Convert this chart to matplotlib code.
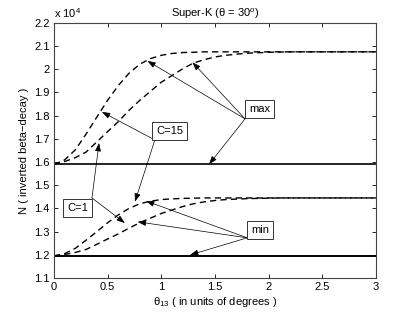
import matplotlib
matplotlib.use("Agg")
import matplotlib.pyplot as plt
from matplotlib.ticker import FuncFormatter

plt.rcParams["font.family"] = ["Liberation Sans", "DejaVu Sans"]
plt.rcParams["mathtext.fontset"] = "custom"
plt.rcParams["mathtext.rm"] = "Liberation Sans"
plt.rcParams["mathtext.it"] = "Liberation Sans:italic"

# N in units of 1e4, theta_13 in degrees
x_steep = [0, 0.1, 0.2, 0.3, 0.4, 0.5, 0.6, 0.7, 0.8, 0.9, 1.0, 1.1, 1.2, 1.3, 1.4, 1.5, 2.0, 2.5, 3.0]
max_c15 = [1.590, 1.609, 1.653, 1.721, 1.794, 1.866, 1.930, 1.983, 2.022, 2.046, 2.060,
           2.068, 2.072, 2.073, 2.075, 2.075, 2.075, 2.075, 2.075]
min_c15 = [1.195, 1.205, 1.228, 1.263, 1.300, 1.338, 1.372, 1.400, 1.420, 1.431, 1.438,
           1.441, 1.443, 1.444, 1.445, 1.445, 1.445, 1.445, 1.445]

x_slow = [0, 0.1, 0.2, 0.3, 0.4, 0.5, 0.6, 0.7, 0.8, 0.9, 1.0, 1.1, 1.2, 1.3, 1.4, 1.5,
          1.6, 1.7, 1.8, 1.9, 2.0, 2.1, 2.2, 2.5, 3.0]
max_c1 = [1.590, 1.602, 1.619, 1.643, 1.687, 1.731, 1.774, 1.823, 1.866, 1.905, 1.944,
          1.973, 2.002, 2.027, 2.041, 2.053, 2.060, 2.065, 2.069, 2.071, 2.073, 2.074,
          2.075, 2.075, 2.075]
min_c1 = [1.195, 1.201, 1.210, 1.223, 1.245, 1.268, 1.290, 1.315, 1.338, 1.358, 1.378,
          1.393, 1.408, 1.420, 1.428, 1.434, 1.438, 1.440, 1.442, 1.443, 1.444, 1.445,
          1.445, 1.445, 1.445]

max_const = 1.59
min_const = 1.195

# label boxes: text, centre, arrow origin, arrow targets
labels = {
    "max": ((1.915, 1.827), (1.78, 1.786), [(0.87, 2.036), (1.29, 2.030), (1.445, 1.590)]),
    "C=15": ((1.08, 1.734), (0.94, 1.695), [(0.447, 1.816), (0.755, 1.429)]),
    "C=1": ((0.22, 1.402), (0.354, 1.445), [(0.42, 1.682), (0.66, 1.337)]),
    "min": ((1.92, 1.307), (1.80, 1.273), [(0.857, 1.432), (0.78, 1.342), (1.267, 1.199)]),
}

fig = plt.figure(figsize=(4.15, 3.13), dpi=100)
ax = fig.add_axes([0.13, 0.112, 0.776, 0.815])

dash = (0, (4.5, 3))
ax.plot(x_steep, max_c15, color="k", lw=1.0, linestyle=dash)
ax.plot(x_slow, max_c1, color="k", lw=1.0, linestyle=dash)
ax.plot(x_steep, min_c15, color="k", lw=1.0, linestyle=dash)
ax.plot(x_slow, min_c1, color="k", lw=1.0, linestyle=dash)
ax.axhline(max_const, color="k", lw=1.2)
ax.axhline(min_const, color="k", lw=1.4)

for text, (centre, origin, targets) in labels.items():
    ax.text(centre[0], centre[1], text, ha="center", va="center", fontsize=8,
            bbox=dict(boxstyle="square,pad=0.35", fc="white", ec="#333333", lw=0.7),
            zorder=5)
    for tx, ty in targets:
        ax.annotate("", xy=(tx, ty), xytext=origin,
                    arrowprops=dict(arrowstyle="-|>,head_length=0.5,head_width=0.18",
                                    color="k", lw=0.5, shrinkA=0, shrinkB=0))

ax.set_xlim(0, 3)
ax.set_ylim(1.1, 2.2)
ax.set_xticks([0, 0.5, 1, 1.5, 2, 2.5, 3])
ax.set_yticks([1.1, 1.2, 1.3, 1.4, 1.5, 1.6, 1.7, 1.8, 1.9, 2.0, 2.1, 2.2])
ax.xaxis.set_major_formatter(FuncFormatter(lambda v, p: f"{v:g}"))
ax.yaxis.set_major_formatter(FuncFormatter(lambda v, p: f"{v:g}"))
ax.tick_params(direction="in", length=3, width=0.6, labelsize=8, top=True, right=True,
               pad=3)
for s in ax.spines.values():
    s.set_linewidth(0.8)
    s.set_color("#444444")

ax.text(0.0, 1.012, "x 10$^4$", transform=ax.transAxes, fontsize=8, ha="left", va="bottom")
ax.set_title("Super-K (\u03b8 = 30$^o$)", fontsize=8, pad=4)
ax.set_xlabel("\u03b8$_{13}$ ( in units of degrees )", fontsize=8, labelpad=2)
ax.set_ylabel("N ( inverted beta\u2212decay )", fontsize=8, labelpad=4)

fig.savefig("out.png", dpi=100)
